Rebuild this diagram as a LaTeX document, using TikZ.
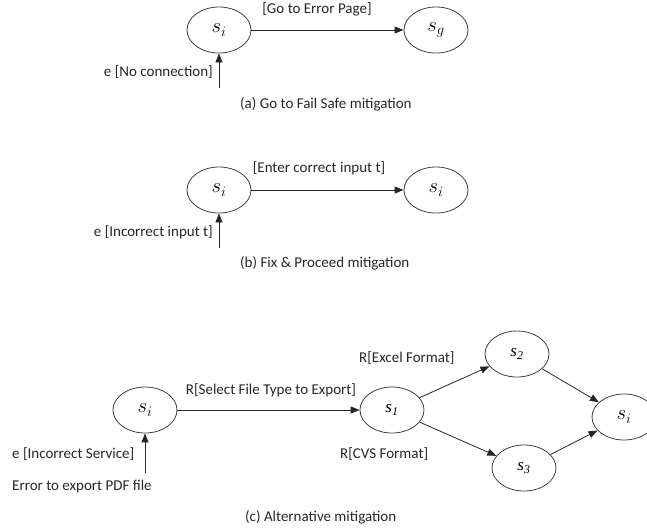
\documentclass[tikz,border=0pt]{standalone}
\usepackage{fontspec}
\setmainfont{Carlito}
\newfontfamily\tmsfont{Liberation Serif}
\usetikzlibrary{arrows.meta,shapes.geometric}
\newcommand{\tstate}[1]{{\fontsize{17}{19}\selectfont\tmsfont\itshape s\textsubscript{#1}}}
\begin{document}
\begin{tikzpicture}[x=1pt,y=-1pt,
  state/.style={draw=black!75, line width=0.8pt, ellipse, minimum width=64pt, minimum height=46pt, inner sep=0pt, font=\fontsize{20}{22}\selectfont},
  lbl/.style={font=\fontsize{15}{17}\selectfont, text=black!85, inner sep=0pt},
  arr/.style={-{Triangle[length=9pt,width=7pt]}, line width=0.8pt, draw=black!85},
]
\useasboundingbox (0,0) rectangle (647,531);
\clip (0,0) rectangle (647,531);

% (a)
\node[state] (ia) at (219,30) {$s_i$};
\node[state] (ga) at (436,30) {$s_g$};
\draw[arr] (ia) -- (ga);
\node[lbl] (la) at (317,9) {[Go to Error Page]};
\coordinate (ea) at (219,88);
\draw[arr] (ea) -- (ia);
\node[lbl, anchor=east] (lea) at (213,72) {e [No connection]};
\node[lbl, anchor=west] (ca) at (240,104) {(a) Go to Fail Safe mitigation};

% (b)
\node[state] (ib) at (219,190) {$s_i$};
\node[state] (jb) at (436,190) {$s_i$};
\draw[arr] (ib) -- (jb);
\node[lbl] (lb) at (319,168) {[Enter correct input t]};
\coordinate (eb) at (219,248);
\draw[arr] (eb) -- (ib);
\node[lbl, anchor=east] (leb) at (213,232) {e [Incorrect input t]};
\node[lbl, anchor=west] (cb) at (240,263) {(b) Fix \& Proceed mitigation};

% (c)
\node[state] (ic) at (145,410) {$s_i$};
\node[state] (s1) at (392,410) {\tstate{1}};
\node[state] (s2) at (517,354) {\tstate{2}};
\node[state] (s3) at (524,468) {\tstate{3}};
\node[state] (jc) at (624,417) {$s_i$};
\draw[arr] (ic) -- (s1);
\draw[arr] (s1) -- (s2);
\draw[arr] (s1) -- (s3);
\draw[arr] (s2) -- (jc);
\draw[arr] (s3) -- (jc);
\node[lbl] (lsel) at (271,390) {R[Select File Type to Export]};
\node[lbl, anchor=west] (lex) at (359,358) {R[Excel Format]};
\node[lbl, anchor=west] (lcv) at (340,454) {R[CVS Format]};
\coordinate (ec) at (145,473);
\draw[arr] (ec) -- (ic);
\node[lbl, anchor=west] (lec) at (12,454) {e [Incorrect Service]};
\node[lbl, anchor=west] (lpdf) at (12,486) {Error to export PDF file};
\node[lbl, anchor=west] (cc) at (245,517) {(c) Alternative mitigation};
\end{tikzpicture}
\end{document}
